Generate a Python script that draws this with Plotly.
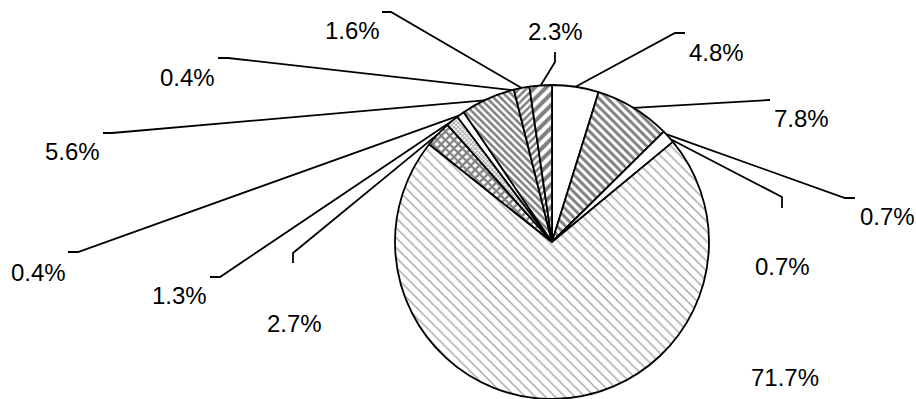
import math
import plotly.graph_objects as go

# Shares (%) clockwise from 12 o'clock
values = [4.8, 7.8, 0.7, 0.7, 71.7, 2.7, 1.3, 0.4, 5.6, 0.4, 1.6, 2.3]
labels = [f"{v}%" for v in values]

# Fill styles per slice: (pattern shape, fg colour, bg colour, size, solidity)
styles = [
    ("", "black", "white", 8, 0.3),
    ("\\", "black", "white", 6, 0.5),
    ("", "black", "white", 8, 0.3),
    ("", "black", "white", 8, 0.3),
    ("\\", "#555555", "white", 7, 0.22),
    ("x", "black", "white", 6, 0.6),
    ("x", "#444444", "white", 3, 0.5),
    ("", "black", "white", 8, 0.3),
    ("\\", "black", "white", 5, 0.5),
    ("", "black", "black", 8, 0.3),
    ("/", "black", "white", 5, 0.5),
    ("/", "black", "white", 8, 0.5),
]

W, H = 916, 399
CX, CY, R = 552, 242, 157

# Label text centres and leader-line bend points (page pixels)
label_pos = [(716, 52), (801, 118), (887, 216), (782, 266), (785, 377),
             (294, 323), (179, 295), (38, 272), (72, 151), (187, 77),
             (352, 30), (555, 31)]
leader_pts = [
    [(685, 33), (675, 33)],
    [(770, 100)],
    [(855, 198), (845, 198)],
    [(782, 208), (782, 197)],
    [],
    [(293, 263), (293, 253)],
    [(210, 277), (220, 277)],
    [(68, 252), (78, 252)],
    [(103, 133), (112, 133)],
    [(218, 58), (228, 58)],
    [(382, 12), (391, 12)],
    [(555, 52), (555, 62)],
]

fig = go.Figure()

fig.add_trace(go.Pie(
    values=values,
    labels=labels,
    sort=False,
    direction="clockwise",
    rotation=0,
    textinfo="none",
    hoverinfo="label",
    showlegend=False,
    domain=dict(x=[(CX - R) / W, (CX + R) / W], y=[(H - (CY + R)) / H, (H - (CY - R)) / H]),
    marker=dict(
        colors=[s[2] for s in styles],
        line=dict(color="black", width=1.8),
        pattern=dict(
            shape=[s[0] for s in styles],
            fgcolor=[s[1] for s in styles],
            bgcolor=[s[2] for s in styles],
            size=[s[3] for s in styles],
            solidity=[s[4] for s in styles],
            fillmode="overlay",
        ),
    ),
))

# Leader lines: from the label bend points to the middle of each slice's arc
total = sum(values)
cum = 0.0
for v, pts in zip(values, leader_pts):
    mid = (cum + v / 2) / total * 2 * math.pi
    cum += v
    if not pts:
        continue
    ex = CX + R * math.sin(mid)
    ey = CY - R * math.cos(mid)
    xs = [p[0] for p in pts] + [ex]
    ys = [p[1] for p in pts] + [ey]
    fig.add_trace(go.Scatter(
        x=xs, y=ys, mode="lines",
        line=dict(color="black", width=1.8),
        hoverinfo="skip", showlegend=False,
    ))

for text, (x, y) in zip(labels, label_pos):
    fig.add_annotation(
        x=x, y=y, xref="x", yref="y", text=text, showarrow=False,
        xanchor="center", yanchor="middle",
        font=dict(family="Liberation Sans, Arial", size=24, color="black"),
    )

fig.update_layout(
    width=W, height=H,
    margin=dict(l=0, r=0, t=0, b=0),
    paper_bgcolor="white",
    plot_bgcolor="rgba(0,0,0,0)",
    xaxis=dict(range=[0, W], visible=False, fixedrange=True),
    yaxis=dict(range=[H, 0], visible=False, fixedrange=True),
)

fig.write_html("out.html")
